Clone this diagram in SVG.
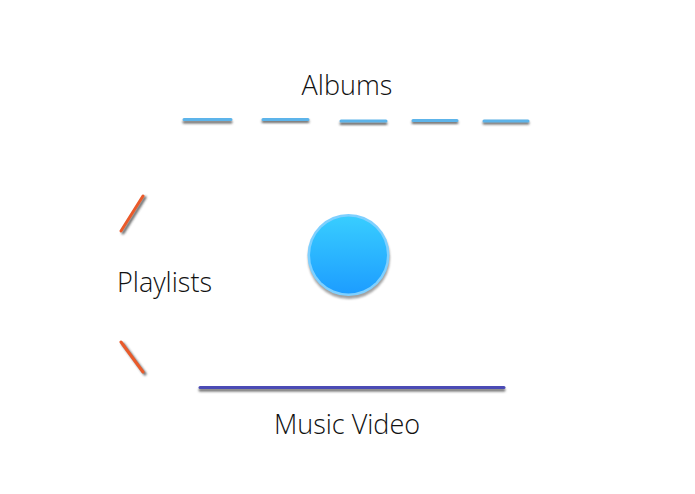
<svg xmlns="http://www.w3.org/2000/svg" width="695" height="494" viewBox="0 0 695 494">
<style>
.lbl{font-family:"Open Sans","Noto Sans",sans-serif;font-weight:300;font-size:27px;fill:#111;}
.sh{stroke:#444;stroke-opacity:0.8;stroke-width:3;stroke-linecap:round;fill:none;}
.blue{stroke:#5db4ea;stroke-width:3;stroke-linecap:round;fill:none;}
.orange{stroke:#ea5a2a;stroke-width:3;stroke-linecap:round;fill:none;}
.purple{stroke:#4b4bb5;stroke-width:3;stroke-linecap:round;fill:none;}
</style>
<defs>
<linearGradient id="cg" x1="0" y1="0" x2="0" y2="1">
<stop offset="0" stop-color="#38cdff"/>
<stop offset="1" stop-color="#1d9dff"/>
</linearGradient>
<filter id="blur" x="-20%" y="-20%" width="140%" height="140%"><feGaussianBlur stdDeviation="1"/></filter>
</defs>
<rect width="695" height="494" fill="#fff"/>
<g id="connectors">
<g filter="url(#blur)">
<path class="sh" d="M184 122H231M263 121.5H308M341 123.5H386M413 122.5H457M484 123H528"/>
<path class="sh" d="M145 197.5L123 233M123 344L145 374"/>
<path class="sh" d="M200 390H504"/>
</g>
<path class="blue" d="M184 119.5H231M263 119.5H308M341 121H386M413 120.5H457M484 121H528"/>
<path class="orange" d="M143 196L121 231M121 342L143 372"/>
<path class="purple" d="M200 387.5H504"/>
</g>
<g id="center">
<circle cx="349" cy="258" r="41" fill="#555" opacity="0.55" filter="url(#blur)"/>
<circle cx="348.5" cy="255" r="41" fill="#7fd0ff"/>
<circle cx="348.5" cy="255" r="38.5" fill="url(#cg)"/>
</g>
<g id="albums"><text class="lbl" x="347" y="95" text-anchor="middle">Albums</text></g>
<g id="playlists"><text class="lbl" x="117" y="292">Playlists</text></g>
<g id="musicvideo"><text class="lbl" x="347" y="434" text-anchor="middle">Music Video</text></g>
</svg>
